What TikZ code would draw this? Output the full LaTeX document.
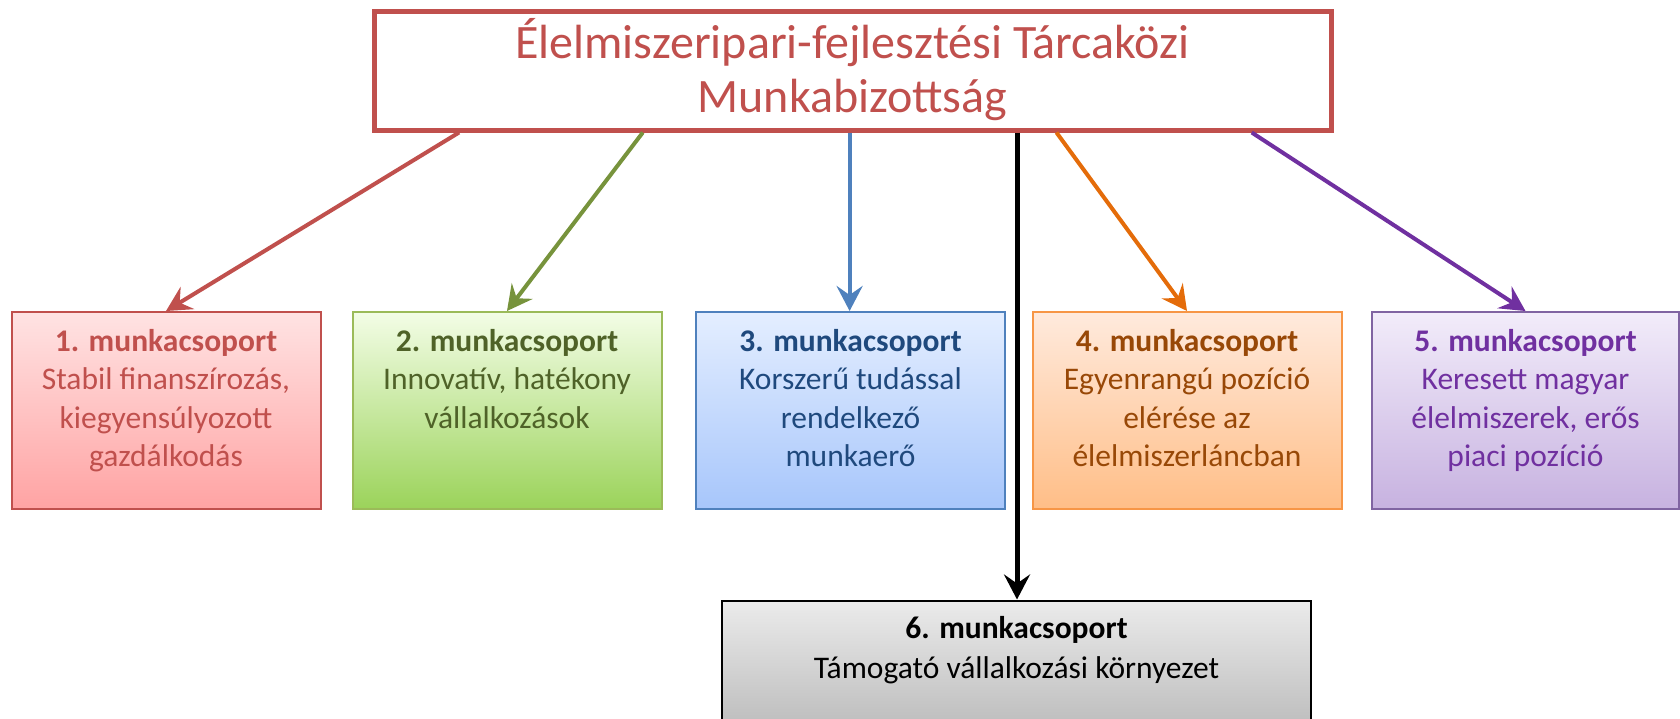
\documentclass[tikz,border=0pt]{standalone}
\usepackage{fontspec}
\setmainfont{Carlito}
\usetikzlibrary{arrows.meta,calc}
\definecolor{bdA}{HTML}{C0504D}\definecolor{txA}{HTML}{C0504D}\definecolor{arA}{HTML}{C0504D}
\definecolor{tpA}{HTML}{FFE3E3}\definecolor{btA}{HTML}{FFA3A3}
\definecolor{bdB}{HTML}{9BBB59}\definecolor{txB}{HTML}{4F6228}\definecolor{arB}{HTML}{77933C}
\definecolor{tpB}{HTML}{F3FDE6}\definecolor{mdB}{HTML}{E2F8C6}\definecolor{btB}{HTML}{9BD35A}
\definecolor{bdC}{HTML}{4F81BD}\definecolor{txC}{HTML}{1F497D}\definecolor{arC}{HTML}{4F81BD}
\definecolor{tpC}{HTML}{E4EEFF}\definecolor{btC}{HTML}{A7C6FB}
\definecolor{bdD}{HTML}{F79646}\definecolor{txD}{HTML}{984807}\definecolor{arD}{HTML}{E46C0A}
\definecolor{tpD}{HTML}{FFEADD}\definecolor{btD}{HTML}{FFBE87}
\definecolor{bdE}{HTML}{8064A2}\definecolor{txE}{HTML}{7030A0}\definecolor{arE}{HTML}{7030A0}
\definecolor{tpE}{HTML}{F2ECFA}\definecolor{btE}{HTML}{C7B2E0}
\definecolor{tpF}{HTML}{EBEBEB}\definecolor{btF}{HTML}{B8B8B8}
\begin{document}
\begin{tikzpicture}[x=1pt,y=-1pt,
  groupbox/.style={line width=2pt, minimum width=309pt, minimum height=197pt, inner sep=0pt},
  grouptext/.style={font=\fontsize{31.5}{38.5}\selectfont, align=center, anchor=base, inner sep=0pt},
  arr/.style={line width=4pt, -{Stealth[length=25pt,width=26pt,inset=9pt]}}]
\useasboundingbox (0,0) rectangle (1680,718);
\clip (0,0) rectangle (1680,718);
% top box
\node[draw=bdA, line width=5pt, minimum width=957pt, minimum height=119pt, inner sep=0pt] (top) at (852.5,70.5) {};
\node[font=\fontsize{48}{54}\selectfont, text=txA, align=center, anchor=base, inner sep=0pt] (toptext) at (852.5,112) {Élelmiszeripari-fejlesztési Tárcaközi\\Munkabizottság};
% group boxes
\node[groupbox, draw=bdA, top color=tpA, bottom color=btA] (b1) at (166,410.5) {};
\node[groupbox, draw=bdB, top color=tpB, middle color=mdB, bottom color=btB] (b2) at (507,410.5) {};
\node[groupbox, draw=bdC, top color=tpC, bottom color=btC] (b3) at (850.5,410.5) {};
\node[groupbox, draw=bdD, top color=tpD, bottom color=btD] (b4) at (1187,410.5) {};
\node[groupbox, draw=bdE, top color=tpE, bottom color=btE, minimum width=307pt] (b5) at (1525.5,410.5) {};
\node[groupbox, draw=black, top color=tpF, bottom color=btF, minimum width=589pt, minimum height=140pt] (b6) at (1016.5,670.5) {};
% texts (anchor base = baseline of the last line)
\node[grouptext, text=txA] (t1) at ($(b1.north)+(0,155.5)$) {\textbf{1. munkacsoport}\\Stabil finanszírozás,\\kiegyensúlyozott\\gazdálkodás};
\node[grouptext, text=txB] (t2) at ($(b2.north)+(0,117)$) {\textbf{2. munkacsoport}\\Innovatív, hatékony\\vállalkozások};
\node[grouptext, text=txC] (t3) at ($(b3.north)+(0,155.5)$) {\textbf{3. munkacsoport}\\Korszerű tudással\\rendelkező\\munkaerő};
\node[grouptext, text=txD] (t4) at ($(b4.north)+(0,155.5)$) {\textbf{4. munkacsoport}\\Egyenrangú pozíció\\elérése az\\élelmiszerláncban};
\node[grouptext, text=txE] (t5) at ($(b5.north)+(0,155.5)$) {\textbf{5. munkacsoport}\\Keresett magyar\\élelmiszerek, erős\\piaci pozíció};
\node[grouptext, text=black, font=\fontsize{31.5}{40}\selectfont] (t6) at ($(b6.north)+(0,79)$) {\textbf{6. munkacsoport}\\Támogató vállalkozási környezet};
% start points
\coordinate (s1) at ($(top.south west)!0.091!(top.south east)$);
\coordinate (s2) at ($(top.south west)!0.282!(top.south east)$);
\coordinate (s3) at ($(top.south west)!0.497!(top.south east)$);
\coordinate (s4) at ($(top.south west)!0.671!(top.south east)$);
\coordinate (s5) at ($(top.south west)!0.712!(top.south east)$);
\coordinate (s6) at ($(top.south west)!0.915!(top.south east)$);
% arrows
\draw[arr, arA] (s1) -- (b1.north);
\draw[arr, arB] (s2) -- (b2.north);
\draw[arr, arC] (s3) -- (s3 |- b3.north);
\draw[arr, black, line width=5pt] (s4) -- (s4 |- b6.north);
\draw[arr, arD] (s5) -- (b4.north);
\draw[arr, arE] (s6) -- (b5.north);
\end{tikzpicture}
\end{document}
